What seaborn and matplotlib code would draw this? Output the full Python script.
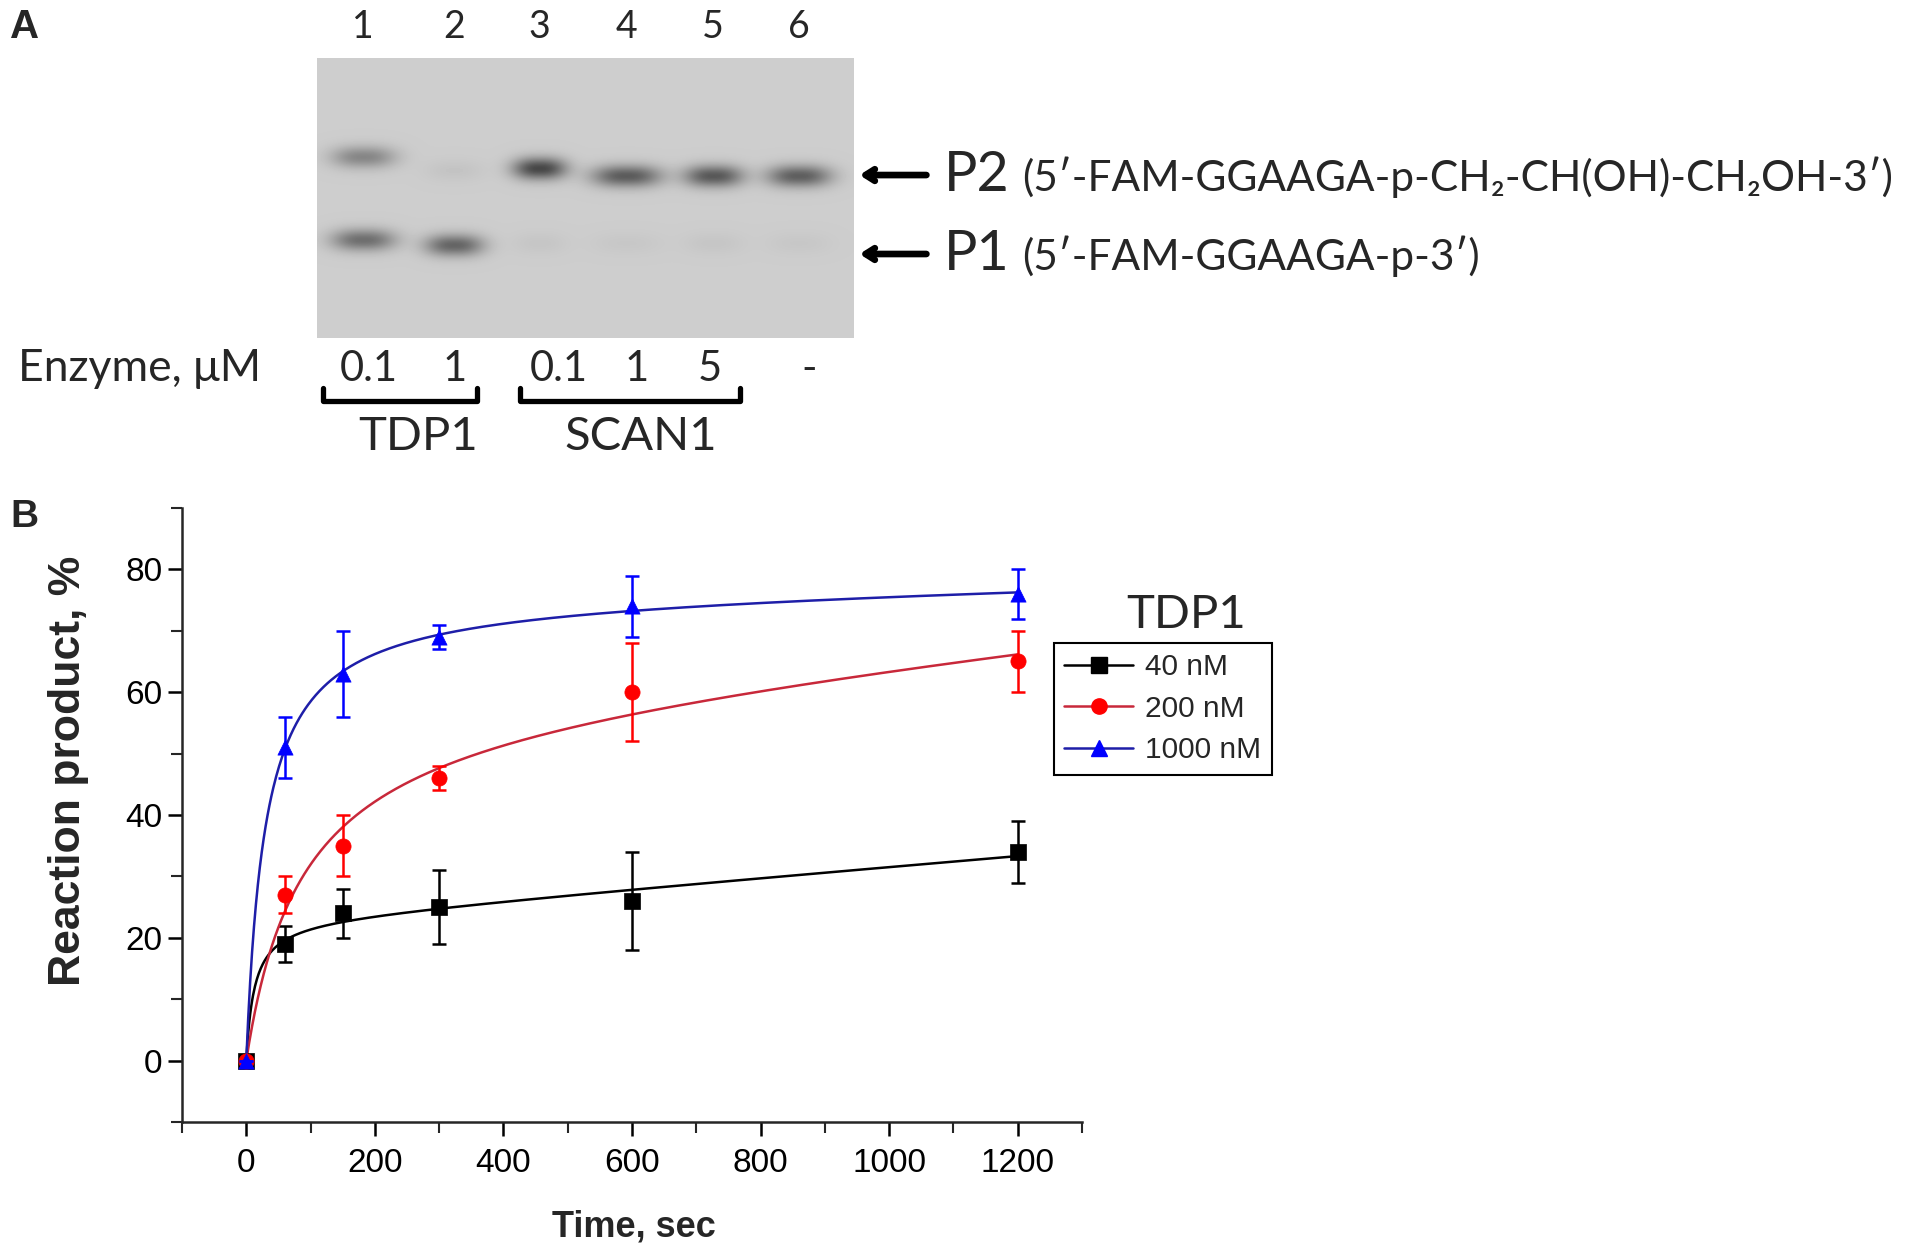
import numpy as np
import pandas as pd
import matplotlib
matplotlib.use('Agg')
import matplotlib.pyplot as plt
from matplotlib.lines import Line2D
import seaborn as sns

# ---- panel B data ----
time_sec = [0, 60, 150, 300, 600, 1200]
conc_labels = ['40 nM', '200 nM', '1000 nM']
product_40 = [0, 19, 24, 25, 26, 34]
err_40 = [0, 3, 4, 6, 8, 5]
product_200 = [0, 27, 35, 46, 60, 65]
err_200 = [0, 3, 5, 2, 8, 5]
product_1000 = [0, 51, 63, 69, 74, 76]
err_1000 = [0, 5, 7, 2, 5, 4]

# ---- panel A gel data ----
lane_numbers = ['1', '2', '3', '4', '5', '6']
enzyme_conc = ['0.1', '1', '0.1', '1', '5', '-']
enzyme_groups = ['TDP1', 'SCAN1']
p2_intensity = [0.45, 0.06, 0.85, 0.72, 0.74, 0.70]
p1_intensity = [0.60, 0.66, 0.05, 0.04, 0.05, 0.04]

# layout (pixels of the 1927x1254 canvas)
W, H = 1927, 1254
def fx(px):
    return px / W
def fy(py):
    return 1 - py / H

sns.set_theme(style='ticks')
plt.rcParams['font.family'] = ['Liberation Sans', 'DejaVu Sans']
calibri_like = ['Lato', 'DejaVu Sans']

fig = plt.figure(figsize=(W / 100, H / 100), dpi=100)
fig.patch.set_facecolor('white')

# ---------------- panel A: gel ----------------
gel_left, gel_top, gel_w, gel_h = 317, 58, 537, 280
ax_gel = fig.add_axes([fx(gel_left), fy(gel_top + gel_h), gel_w / W, gel_h / H])
lane_x = [0.086, 0.255, 0.414, 0.576, 0.738, 0.897]
band_w = [0.12, 0.11, 0.10, 0.13, 0.11, 0.12]
p2_y = [0.352, 0.40, 0.393, 0.42, 0.42, 0.42]
p1_y = [0.648, 0.667, 0.66, 0.66, 0.66, 0.66]

gh, gw = gel_h, gel_w
yy, xx = np.mgrid[0:gh, 0:gw]
gel = np.full((gh, gw), 0.805)
for i in range(len(lane_numbers)):
    cx = lane_x[i] * gw
    hw = band_w[i] * gw / 2
    prof_x = np.exp(-np.abs((xx - cx) / hw) ** 2.5)
    for inten, cy in ((p2_intensity[i], p2_y[i]), (p1_intensity[i], p1_y[i])):
        prof_y = np.exp(-((yy - cy * gh) / 11.0) ** 2)
        gel -= 0.62 * inten * prof_x * prof_y
ax_gel.imshow(gel, cmap='gray', vmin=0, vmax=1, extent=[0, 1, 0, 1],
              aspect='auto', interpolation='bilinear')
ax_gel.set_xlim(0, 1)
ax_gel.set_ylim(0, 1)
ax_gel.axis('off')

# lane numbers above the gel
for i, lab in enumerate(lane_numbers):
    ax_gel.text(lane_x[i], 1.11, lab, ha='center', va='center', fontsize=27,
                family=calibri_like, transform=ax_gel.transAxes)

# enzyme concentration row
enz_x = [0.097, 0.257, 0.451, 0.596, 0.732, 0.916]
ax_gel.text(-0.557, -0.11, 'Enzyme, \u03bcM', ha='left', va='center', fontsize=32,
            family=calibri_like, transform=ax_gel.transAxes)
for i, lab in enumerate(enzyme_conc):
    ax_gel.text(enz_x[i], -0.11, lab, ha='center', va='center', fontsize=30,
                family=calibri_like, transform=ax_gel.transAxes)

# brackets and enzyme names
brackets = [(0.011, 0.298), (0.378, 0.788)]
name_x = [0.188, 0.603]
for (x0, x1), name, nx in zip(brackets, enzyme_groups, name_x):
    ax_gel.plot([x0, x0, x1, x1], [-0.18, -0.225, -0.225, -0.18], color='black',
                lw=3.8, solid_joinstyle='round', solid_capstyle='round',
                transform=ax_gel.transAxes, clip_on=False)
    ax_gel.text(nx, -0.355, name, ha='center', va='center', fontsize=34,
                family=calibri_like, transform=ax_gel.transAxes)

# product arrows and labels
for label, formula, yv in (('P2', '(5\u2032-FAM-GGAAGA-p-CH\u2082-CH(OH)-CH\u2082OH-3\u2032)', 0.582),
                           ('P1', '(5\u2032-FAM-GGAAGA-p-3\u2032)', 0.30)):
    ax_gel.annotate('', xy=(1.005, yv), xytext=(1.14, yv), xycoords='axes fraction',
                    arrowprops=dict(arrowstyle='->,head_length=0.55,head_width=0.35',
                                    lw=4.8, color='black'))
    fig.text(fx(944), fy(338 - yv * gel_h), label, ha='left', va='center',
             fontsize=40, family=calibri_like)
    fig.text(fx(1022), fy(338 - yv * gel_h) - 0.002, formula, ha='left', va='center',
             fontsize=30.5, family=calibri_like)

fig.text(fx(10), fy(27), 'A', ha='left', va='center', fontsize=29, fontweight='bold')
fig.text(fx(10), fy(517), 'B', ha='left', va='center', fontsize=28, fontweight='bold')

# ---------------- panel B: kinetics ----------------
ax = fig.add_axes([fx(182), fy(1122), 900 / W, 614 / H])

series = [
    (conc_labels[0], product_40, err_40, 'black', 'black', 's'),
    (conc_labels[1], product_200, err_200, '#c8283a', 'red', 'o'),
    (conc_labels[2], product_1000, err_1000, '#1e1ea8', 'blue', '^'),
]

t = np.array(time_sec, dtype=float)
t_fine = np.linspace(0, 1200, 800)
handles = []
for z, (lab, vals, errs, lcol, mcol, mk) in enumerate(series):
    y = np.array(vals, dtype=float)
    # hyperbolic + linear fit  y = A t/(K+t) + b t, least squares over K
    best = None
    for K in np.logspace(0.5, 4, 600):
        X = np.column_stack([t / (K + t), t])
        coef, *_ = np.linalg.lstsq(X, y, rcond=None)
        sse = np.sum((X @ coef - y) ** 2)
        if best is None or sse < best[0]:
            best = (sse, K, coef)
    _, K, (A, b) = best
    fit = pd.DataFrame({'time': t_fine, 'value': A * t_fine / (K + t_fine) + b * t_fine})
    sns.lineplot(data=fit, x='time', y='value', color=lcol, lw=1.8, ax=ax, zorder=2 + z)
    ax.errorbar(t, y, yerr=errs, fmt='none', ecolor=mcol, elinewidth=1.8,
                capsize=5, capthick=1.8, zorder=3 + z)
    pts = pd.DataFrame({'time': t, 'value': y})
    sns.scatterplot(data=pts, x='time', y='value', color=mcol, marker=mk, s=120,
                    edgecolor=mcol, linewidth=0.5, ax=ax, zorder=4 + z)
    handles.append(Line2D([], [], color=lcol, lw=1.8, marker=mk, markersize=11,
                          markerfacecolor=mcol, markeredgecolor=mcol, label=lab))

ax.set_xlim(-100, 1300)
ax.set_ylim(-10, 90)
ax.set_xticks([0, 200, 400, 600, 800, 1000, 1200])
ax.set_xticks(np.arange(-100, 1301, 200), minor=True)
ax.set_yticks([0, 20, 40, 60, 80])
ax.set_yticks(np.arange(-10, 91, 20), minor=True)
sns.despine(ax=ax)
for sp in ('left', 'bottom'):
    ax.spines[sp].set_linewidth(1.8)
ax.tick_params(axis='both', which='major', direction='out', length=10, width=1.8,
               labelsize=24, colors='black')
ax.tick_params(axis='both', which='minor', direction='out', length=8, width=1.5)
ax.tick_params(axis='x', which='major', pad=9)
ax.tick_params(axis='y', which='major', pad=4)
ax.set_xlabel('Time, sec', fontsize=26, fontweight='bold')
ax.set_ylabel('Reaction product, %', fontsize=32, fontweight='bold')
ax.xaxis.set_label_coords(0.502, -0.143)
ax.yaxis.set_label_coords(-0.103, 0.572)
ax.set_facecolor('white')

leg = fig.legend(handles=handles, loc='upper left', bbox_to_anchor=(fx(1054), fy(643)),
                 bbox_transform=fig.transFigure, borderaxespad=0, fontsize=21.5,
                 frameon=True, fancybox=False, framealpha=1, edgecolor='black',
                 handlelength=2.3, handletextpad=0.4, labelspacing=0.45, borderpad=0.35)
leg.get_frame().set_linewidth(1.5)
fig.text(fx(1186), fy(615), 'TDP1', ha='center', va='center', fontsize=34,
         family=calibri_like)

fig.savefig('out.png', dpi=100, facecolor='white')
